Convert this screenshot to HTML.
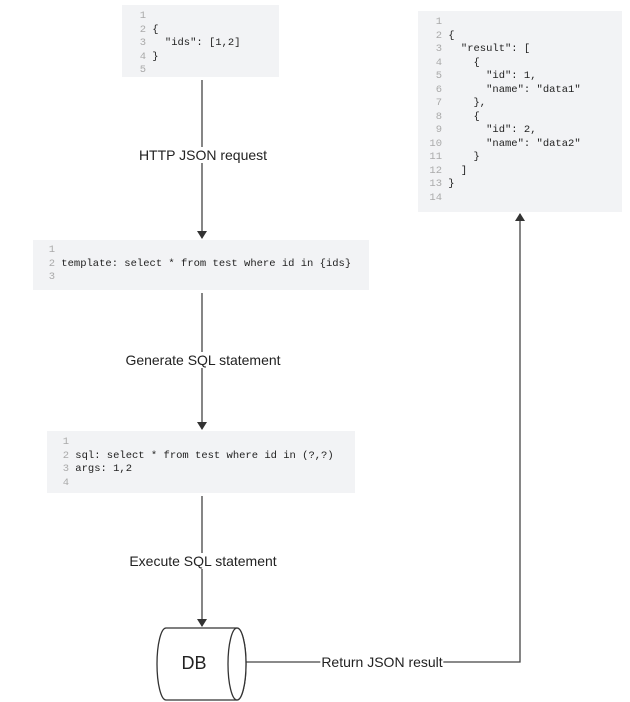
<!DOCTYPE html>
<html><head><meta charset="utf-8"><style>
body{margin:0;width:630px;height:702px;background:#fff;position:relative;overflow:hidden;font-family:"Liberation Sans",sans-serif}
.box{position:absolute;background:#f2f3f5;font-family:"Liberation Mono",monospace;font-size:10.5px;line-height:13.5px;color:#222;white-space:pre;box-sizing:border-box;padding-top:5px}
.box span{color:#aaa;display:inline-block;text-align:right}
.lbl{position:absolute;font-size:14px;color:#222;background:#fff;white-space:nowrap;transform:translate(-50%,-50%)}
</style></head><body>
<svg width="630" height="702" style="position:absolute;left:0;top:0">
<defs><marker id="a" markerWidth="8" markerHeight="10" refX="7" refY="5" orient="auto" markerUnits="userSpaceOnUse"><path d="M0,0 L8,5 L0,10 z" fill="#333"/></marker></defs>
<g stroke="#444" stroke-width="1.3" fill="none">
<line x1="202" y1="80" x2="202" y2="238" marker-end="url(#a)"/>
<line x1="202" y1="293" x2="202" y2="429" marker-end="url(#a)"/>
<line x1="202" y1="496" x2="202" y2="626" marker-end="url(#a)"/>
<polyline points="246,662 520,662 520,214" marker-end="url(#a)"/>
<path d="M166,628 L237,628 A9,36 0 0 1 237,700 L166,700 A9,36 0 0 1 166,628 Z" fill="#fff" stroke="#333"/>
<ellipse cx="237" cy="664" rx="9" ry="36" fill="#fff" stroke="#333"/>
</g>
<text x="194" y="669" font-size="18" text-anchor="middle" fill="#222" font-family="Liberation Sans">DB</text>
</svg>
<div class="box" style="left:122px;top:5px;width:157px;height:72px;padding-left:16px"><span style="width:8px">1</span>
<span style="width:8px">2</span> {
<span style="width:8px">3</span>   "ids": [1,2]
<span style="width:8px">4</span> }
<span style="width:8px">5</span></div>
<div class="box" style="left:418px;top:11px;width:204px;height:201px;padding-left:10px"><span style="width:14px">1</span>
<span style="width:14px">2</span> {
<span style="width:14px">3</span>   "result": [
<span style="width:14px">4</span>     {
<span style="width:14px">5</span>       "id": 1,
<span style="width:14px">6</span>       "name": "data1"
<span style="width:14px">7</span>     },
<span style="width:14px">8</span>     {
<span style="width:14px">9</span>       "id": 2,
<span style="width:14px">10</span>       "name": "data2"
<span style="width:14px">11</span>     }
<span style="width:14px">12</span>   ]
<span style="width:14px">13</span> }
<span style="width:14px">14</span></div>
<div class="box" style="left:33px;top:240px;width:336px;height:50px;padding-left:14px;padding-top:4px"><span style="width:8px">1</span>
<span style="width:8px">2</span> template: select * from test where id in {ids}
<span style="width:8px">3</span></div>
<div class="box" style="left:47px;top:431px;width:308px;height:62px;padding-left:14px"><span style="width:8px">1</span>
<span style="width:8px">2</span> sql: select * from test where id in (?,?)
<span style="width:8px">3</span> args: 1,2
<span style="width:8px">4</span></div>
<div class="lbl" style="left:203px;top:155px">HTTP JSON request</div>
<div class="lbl" style="left:203px;top:360px">Generate SQL statement</div>
<div class="lbl" style="left:203px;top:561px">Execute SQL statement</div>
<div class="lbl" style="left:382px;top:662px;padding:0 1px">Return JSON result</div>
</body></html>
